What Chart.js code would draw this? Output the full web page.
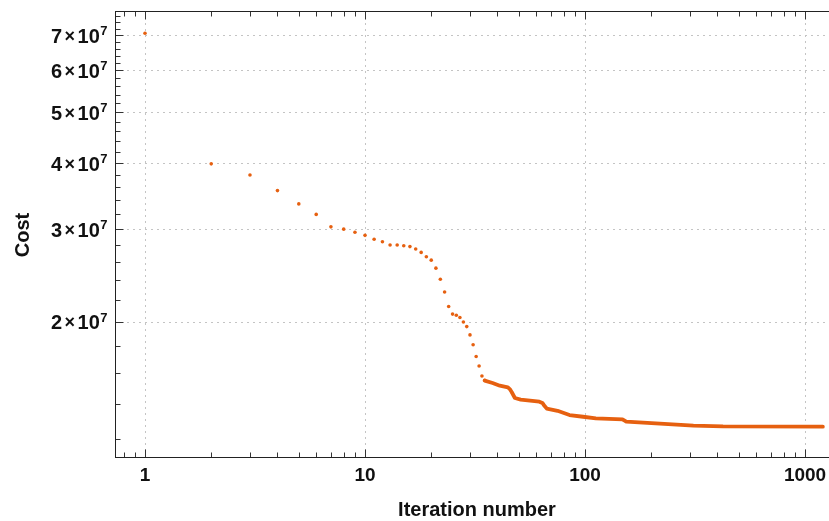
<!DOCTYPE html>
<html><head><meta charset="utf-8">
<script src="https://cdn.jsdelivr.net/npm/chart.js@4.4.1/dist/chart.umd.min.js"></script>
<style>html,body{margin:0;padding:0;background:#fff;} #wrap{width:829px;height:521px;}</style>
</head><body><div id="wrap"><canvas id="c" width="829" height="521"></canvas></div>
<script>
// ---- data ----
const iterations = [1,2,3,4,5,6,7,8,9,10,11,12,13,14,15,16,17,18,19,20,21,22,23,24,25,26,27,28,29,30,31,32,33,34,35];
const costEarly = [7.06e7,3.99e7,3.80e7,3.55e7,3.35e7,3.20e7,3.03e7,3.00e7,2.96e7,2.92e7,2.87e7,2.84e7,2.80e7,2.80e7,2.79e7,2.78e7,2.75e7,2.71e7,2.66e7,2.62e7,2.53e7,2.41e7,2.28e7,2.14e7,2.07e7,2.06e7,2.04e7,2.00e7,1.96e7,1.89e7,1.81e7,1.72e7,1.65e7,1.58e7,1.55e7];
// dense tail (iterations merge into a band)
const tailIterations = [35,38,41,44.6,45.5,46.4,48,51,62,64,65.5,67,75,85,98,112,148,154,219,311,424,1205];
const tailCost = [1.548e7,1.532e7,1.514e7,1.503e7,1.492e7,1.473e7,1.435e7,1.425e7,1.412e7,1.404e7,1.385e7,1.370e7,1.357e7,1.332e7,1.322e7,1.313e7,1.307e7,1.294e7,1.283e7,1.272e7,1.267e7,1.266e7];

const xMajorTicks = [1,10,100,1000];
const xTickLabels = ['1','10','100','1000'];
const xMinorTicks = [0.8,0.9,2,3,4,5,6,7,8,9,20,30,40,50,60,70,80,90,200,300,400,500,600,700,800,900];
const yMajorTicks = [2e7,3e7,4e7,5e7,6e7,7e7];
const yTickMantissas = ['2','3','4','5','6','7'];
const yTickExponent = '7';
const yMinorTicks = [1.2e7,1.4e7,1.6e7,1.8e7,2.2e7,2.4e7,2.6e7,2.8e7,3.2e7,3.4e7,3.6e7,3.8e7,4.2e7,4.4e7,4.6e7,4.8e7,5.2e7,5.4e7,5.6e7,5.8e7,6.2e7,6.4e7,6.6e7,6.8e7,7.2e7,7.4e7,7.6e7];
const xTitle = 'Iteration number';
const yTitle = 'Cost';

const ORANGE = 'rgb(230,96,16)';
const FONT = '"Liberation Sans", Arial, Helvetica, sans-serif';

function seg(ctx,x1,y1,x2,y2){ctx.beginPath();ctx.moveTo(x1,y1);ctx.lineTo(x2,y2);ctx.stroke();}

const framePlugin = {
  id:'frame',
  beforeDatasetsDraw(chart){
    const {ctx, chartArea:a, scales:{x,y}} = chart;
    ctx.save();
    ctx.strokeStyle='#c4c4c4'; ctx.lineWidth=1; ctx.setLineDash([2,4]);
    xMajorTicks.forEach(v=>{const p=Math.round(x.getPixelForValue(v))+0.5; seg(ctx,p,a.top,p,a.bottom);});
    yMajorTicks.forEach(v=>{const p=Math.round(y.getPixelForValue(v))+0.5; seg(ctx,a.left,p,a.right,p);});
    ctx.restore();
  },
  afterDatasetsDraw(chart){
    const {ctx, chartArea:a, scales:{x,y}} = chart;
    ctx.save();
    const L=a.left+0.5, B=a.bottom-0.5, T=a.top+0.5;
    ctx.strokeStyle='#333'; ctx.lineWidth=1;
    const tick=(v,len)=>{const p=Math.round(x.getPixelForValue(v))+0.5; seg(ctx,p,B,p,B-len); seg(ctx,p,T,p,T+len);};
    xMajorTicks.forEach(v=>tick(v,8)); xMinorTicks.forEach(v=>tick(v,5));
    const ytick=(v,len)=>{const p=Math.round(y.getPixelForValue(v))+0.5; seg(ctx,L,p,L+len,p);};
    yMajorTicks.forEach(v=>ytick(v,8)); yMinorTicks.forEach(v=>ytick(v,5));
    ctx.strokeStyle='#222';
    seg(ctx,L,a.top,L,a.bottom); seg(ctx,a.left,B,a.right,B); seg(ctx,a.left,T,a.right,T);
    ctx.fillStyle='#111'; ctx.textAlign='center'; ctx.textBaseline='alphabetic';
    ctx.font='bold 19px '+FONT;
    xMajorTicks.forEach((v,i)=>{ctx.fillText(xTickLabels[i], x.getPixelForValue(v), a.bottom+23);});
    ctx.textAlign='left';
    yMajorTicks.forEach((v,i)=>{
      const py=y.getPixelForValue(v), base=py+7.5, right=a.left-7.5;
      ctx.font='bold 20px '+FONT; const wm=ctx.measureText(yTickMantissas[i]).width, w10=ctx.measureText('10').width;
      ctx.font='bold 18px '+FONT; const wx=ctx.measureText('×').width;
      ctx.font='bold 13px '+FONT; const we=ctx.measureText(yTickExponent).width;
      let cx=right-(wm+2.5+wx+2.5+w10+0.5+we);
      ctx.font='bold 20px '+FONT; ctx.fillText(yTickMantissas[i],cx,base); cx+=wm+2.5;
      ctx.font='bold 18px '+FONT; ctx.fillText('×',cx,base-1); cx+=wx+2.5;
      ctx.font='bold 20px '+FONT; ctx.fillText('10',cx,base); cx+=w10+0.5;
      ctx.font='bold 13px '+FONT; ctx.fillText(yTickExponent,cx,base-7.5);
    });
    ctx.font='bold 20px '+FONT; ctx.textAlign='center';
    ctx.fillText(xTitle, 477, 516);
    ctx.translate(28.5,235); ctx.rotate(-Math.PI/2); ctx.fillText(yTitle,0,0);
    ctx.restore();
  }
};

new Chart(document.getElementById('c'), {
  type:'scatter',
  data:{datasets:[
    {data:iterations.map((n,i)=>({x:n,y:costEarly[i]})), pointRadius:1.8, pointBackgroundColor:ORANGE, pointBorderWidth:0, showLine:false},
    {data:tailIterations.map((n,i)=>({x:n,y:tailCost[i]})), pointRadius:0, borderColor:ORANGE, borderWidth:3.8, showLine:true, tension:0, borderCapStyle:'round', borderJoinStyle:'round'}
  ]},
  options:{
    responsive:false, animation:false, events:[],
    layout:{autoPadding:false, padding:{top:11,right:0,left:0,bottom:0}},
    plugins:{legend:{display:false}, tooltip:{enabled:false}},
    scales:{
      x:{type:'logarithmic', bounds:'data', min:0.7305, max:1285, grid:{display:false}, border:{display:false}, ticks:{display:false},
         afterFit(s){s.height=63;}},
      y:{type:'logarithmic', bounds:'data', min:1.104e7, max:7.78e7, grid:{display:false}, border:{display:false}, ticks:{display:false},
         afterFit(s){s.width=115;}}
    }
  },
  plugins:[framePlugin]
});
</script></body></html>
